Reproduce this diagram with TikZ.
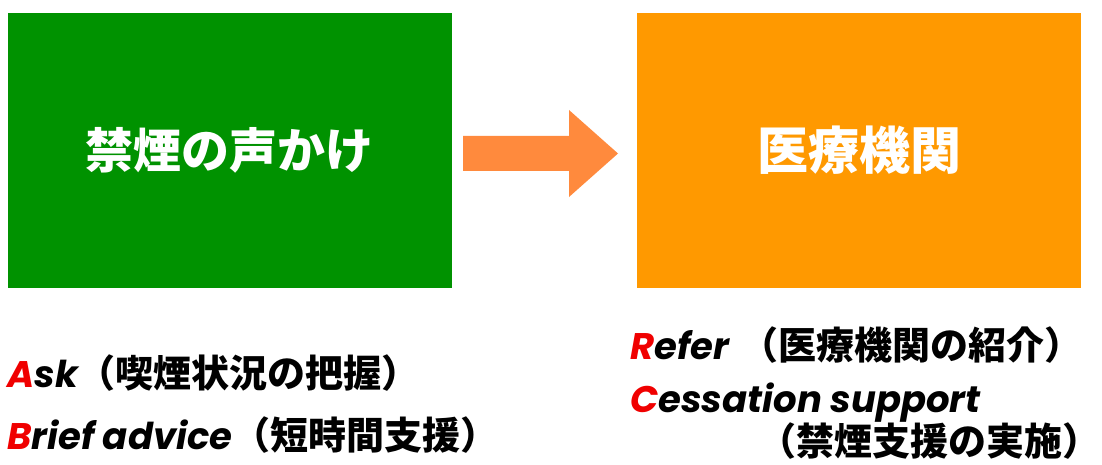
\documentclass[tikz,border=0pt]{standalone}
\usepackage{fontspec}
\newfontfamily\jpfont{Noto Sans CJK JP}
\newfontfamily\latfont{Poppins}
\definecolor{boxgreen}{HTML}{009200}
\definecolor{boxorange}{HTML}{FF9900}
\definecolor{arrowc}{HTML}{FF8A3D}
\definecolor{initred}{HTML}{F00000}
\newcommand{\latpart}[1]{{\latfont\bfseries\itshape #1}}
\newcommand{\inired}[1]{\textcolor{initred}{#1}}
\newcommand{\jppart}[1]{{\jpfont\bfseries #1}}
\begin{document}
\begin{tikzpicture}[x=1pt,y=-1pt]
\useasboundingbox (0,0) rectangle (1102,465);
\tikzset{
  panel/.style={inner sep=0pt, minimum width=444.5pt, minimum height=275pt, text=white,
    font=\jpfont\bfseries\fontsize{48}{48}\selectfont},
  listline/.style={anchor=base west, inner sep=0pt, text=black,
    font=\fontsize{37}{37}\selectfont},
}
\node[panel, fill=boxgreen] (g) at (229.75,150.5) {\raisebox{-3pt}{禁煙の声かけ}};
\node[panel, fill=boxorange] (o) at (859,150.5) {\fontsize{51}{51}\selectfont\raisebox{-3pt}{医療機関}};
\fill[arrowc] (463,136) -- (569,136) -- (569,110) -- (618,153.5) -- (569,197) -- (569,171) -- (463,171) -- cycle;
\node[listline] (ask) at (7,387) {\latpart{\inired{A}sk}{\fontsize{38}{38}\selectfont\jppart{（喫煙状況の把握）}}};
\node[listline] (brief) at (7,449) {\latpart{\inired{B}rief advice}{\fontsize{38}{38}\selectfont\jppart{（短時間支援）}}};
\node[listline] (refer) at (630,359) {\latpart{\inired{R}efer\hspace{11pt}}{\fontsize{38}{38}\selectfont\jppart{（医療機関の紹介）}}};
\node[listline] (cess) at (630,412) {\latpart{\inired{C}essation support}};
\node[listline] (impl) at (758,455) {\fontsize{38}{38}\selectfont\jppart{（禁煙支援の実施）}};
\end{tikzpicture}
\end{document}
